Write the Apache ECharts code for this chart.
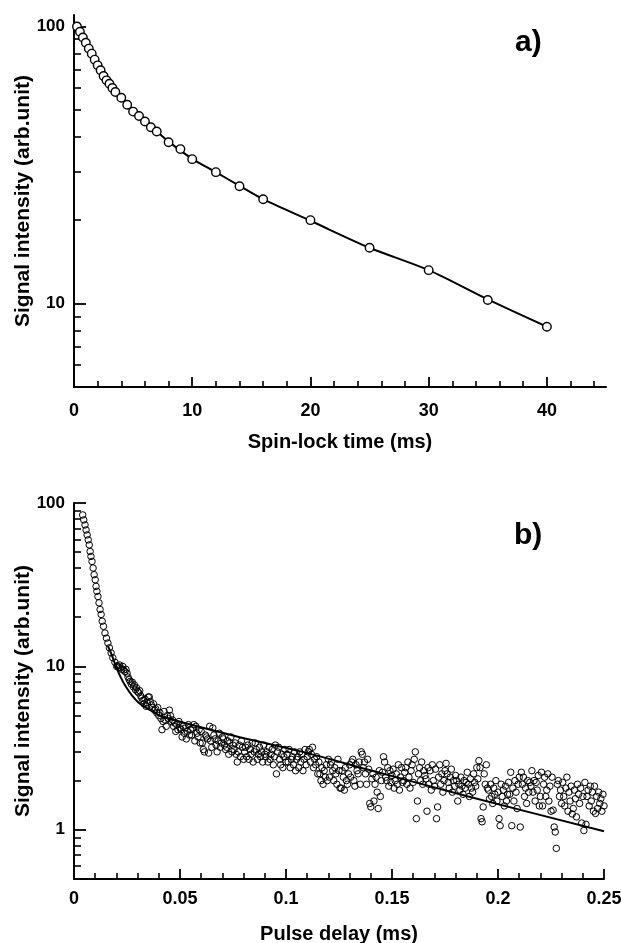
<!DOCTYPE html>
<html><head><meta charset="utf-8">
<script src="https://cdn.jsdelivr.net/npm/echarts@6/dist/echarts.min.js"></script>
<style>html,body{margin:0;padding:0;background:#fff;}#c{width:621px;height:943px;}</style>
</head><body><div id="c"></div>
<script>
// ---------- Panel a : spin-lock time (ms) vs signal ----------
const aTime = [0.25,0.5,0.75,1.0,1.25,1.5,1.75,2.0,2.25,2.5,2.75,3.0,3.25,3.5,
  4.0,4.5,5.0,5.5,6.0,6.5,7.0,8,9,10,12,14,16,20,25,30,35,40];
const aSignal = [100,95.7,91.2,87.3,83.2,79.8,75.9,72.4,69.5,66.3,63.9,62.1,60.0,58.0,
  55.3,52.2,49.3,47.5,45.4,43.3,41.8,38.2,36.1,33.2,29.8,26.5,23.8,20.0,15.9,13.2,10.3,8.25];
const aFitTime = [0.25,1,2,3,4,5,6,7,8,10,12,14,16,20,25,30,35,40];
const aFitSignal = [100,87.3,72.4,62.1,55.3,49.3,45.4,41.8,38.4,33.3,29.8,26.6,23.8,19.9,15.9,13.2,10.35,8.25];
const aXTicks = [0,10,20,30,40];
const aXMinor = [2,4,6,8,12,14,16,18,22,24,26,28,32,34,36,38,42,44];
const aYTicks = [10,100];
const aYMinor = [6,7,8,9,20,30,40,50,60,70,80,90];

// ---------- Panel b : pulse delay (in microseconds, shown in ms) vs signal ----------
const bDelayUs = [
  4.1,4.6,5.2,5.7,6.2,6.7,7.2,7.6,8.0,8.5,9.0,9.5,10.0,10.4,10.8,11.3,11.8,12.3,12.8,13.3,13.9,14.6,15.3,16.0,16.7,17.5,18.3,19.3,20.1,
  20.5,21,21.5,22,22.5,23,23.5,24,24.5,25,
  25.5,26,26.5,27,27.5,28,28.5,29,29.5,30,
  30.5,31,31.5,32,32.5,33,33.5,34,34.5,35,
  35.5,36,36.5,37,37.5,38,38.5,39,39.5,40,
  40.5,41,41.5,42,42.5,43,43.5,44,44.5,45,
  45.5,46,46.5,47,47.5,48,48.5,49,49.5,50,
  50.5,51,51.5,52,52.5,53,53.5,54,54.5,55,
  55.5,56,56.5,57,57.5,58,58.5,59,59.5,60,
  60.5,61,61.5,62,62.5,63,63.5,64,64.5,65,
  65.5,66,66.5,67,67.5,68,68.5,69,69.5,70,
  70.5,71,71.5,72,72.5,73,73.5,74,74.5,75,
  75.5,76,76.5,77,77.5,78,78.5,79,79.5,80,
  80.5,81,81.5,82,82.5,83,83.5,84,84.5,85,
  85.5,86,86.5,87,87.5,88,88.5,89,89.5,90,
  90.5,91,91.5,92,92.5,93,93.5,94,94.5,95,
  95.5,96,96.5,97,97.5,98,98.5,99,99.5,100,
  100.5,101,101.5,102,102.5,103,103.5,104,104.5,105,
  105.5,106,106.5,107,107.5,108,108.5,109,109.5,110,
  110.5,111,111.5,112,112.5,113,113.5,114,114.5,115,
  115.5,116,116.5,117,117.5,118,118.5,119,119.5,120,
  120.5,121,121.5,122,122.5,123,123.5,124,124.5,125,
  125.5,126,126.5,127,127.5,128,128.5,129,129.5,130,
  130.5,131,131.5,132,132.5,133,133.5,134,134.5,135,
  135.5,136,136.5,137,137.5,138,138.5,139,139.5,140,
  140.5,141,141.5,142,142.5,143,143.5,144,144.5,145,
  145.5,146,146.5,147,147.5,148,148.5,149,149.5,150,
  150.5,151,151.5,152,152.5,153,153.5,154,154.5,155,
  155.5,156,156.5,157,157.5,158,158.5,159,159.5,160,
  160.5,161,161.5,162,162.5,163,163.5,164,164.5,165,
  165.5,166,166.5,167,167.5,168,168.5,169,169.5,170,
  170.5,171,171.5,172,172.5,173,173.5,174,174.5,175,
  175.5,176,176.5,177,177.5,178,178.5,179,179.5,180,
  180.5,181,181.5,182,182.5,183,183.5,184,184.5,185,
  185.5,186,186.5,187,187.5,188,188.5,189,189.5,190,
  190.5,191,191.5,192,192.5,193,193.5,194,194.5,195,
  195.5,196,196.5,197,197.5,198,198.5,199,199.5,200,
  200.5,201,201.5,202,202.5,203,203.5,204,204.5,205,
  205.5,206,206.5,207,207.5,208,208.5,209,209.5,210,
  210.5,211,211.5,212,212.5,213,213.5,214,214.5,215,
  215.5,216,216.5,217,217.5,218,218.5,219,219.5,220,
  220.5,221,221.5,222,222.5,223,223.5,224,224.5,225,
  225.5,226,226.5,227,227.5,228,228.5,229,229.5,230,
  230.5,231,231.5,232,232.5,233,233.5,234,234.5,235,
  235.5,236,236.5,237,237.5,238,238.5,239,239.5,240,
  240.5,241,241.5,242,242.5,243,243.5,244,244.5,245,
  245.5,246,246.5,247,247.5,248,248.5,249,249.5,250
];
const bSignal = [
  84.5,78.8,73.4,68.4,63.8,59.5,55.4,50.5,47.1,43.9,40.0,36.4,33.9,30.9,28.8,26.8,24.5,22.3,20.8,18.9,17.6,16.0,14.9,13.9,13.0,12.1,11.3,10.6,10.0,
  10.1,9.9,10.2,9.8,9.6,10.0,9.5,9.3,9.6,9.1,
  8.6,8.3,8.1,7.8,8.0,7.5,7.7,7.2,7.4,7.0,
  6.9,7.1,6.6,6.4,6.2,5.9,6.3,5.7,6.0,6.5,
  6.5,6.1,5.8,5.6,5.9,5.4,5.5,5.2,5.6,5.0,
  5.2,4.8,4.1,4.6,5.3,4.7,4.3,5.0,4.8,5.4,
  5.0,4.6,4.7,4.3,4.5,4.0,4.4,4.1,4.6,4.2,
  4.1,3.7,4.3,3.9,4.2,3.6,4.0,4.4,3.8,4.1,
  3.8,4.2,4.4,3.5,4.3,3.9,3.7,4.1,3.4,4.0,
  3.4,3.1,3.0,3.8,3.7,3.6,2.95,4.3,3.5,3.2,
  4.2,3.8,3.6,3.3,3.0,3.5,3.9,3.2,3.4,3.7,
  3.6,3.3,3.1,3.2,3.5,2.9,3.4,3.7,3.0,3.3,
  3.1,3.4,2.9,2.6,3.0,3.3,2.8,3.5,3.2,2.7,
  3.0,3.2,2.8,3.3,2.7,3.1,2.9,3.4,2.6,3.0,
  3.4,3.1,2.7,2.9,3.2,2.8,3.0,2.6,3.3,2.9,
  2.8,3.0,2.6,3.2,2.7,2.9,3.1,2.5,2.8,3.3,
  2.2,3.0,3.2,2.7,2.5,2.9,2.4,2.8,3.1,2.6,
  2.9,2.6,3.1,2.4,2.7,2.8,2.5,3.0,2.3,2.7,
  2.8,2.4,3.0,2.6,2.9,2.3,2.7,3.1,2.5,2.8,
  3.0,3.1,2.6,2.9,3.2,2.4,2.7,2.5,2.8,2.2,
  2.6,2.2,2.0,2.4,1.9,2.3,2.1,2.5,2.0,2.7,
  2.1,2.5,2.6,2.3,2.0,2.4,2.2,1.9,2.7,2.3,
  1.8,1.8,2.3,2.1,1.75,2.4,2.0,1.9,2.2,2.5,
  2.1,2.6,2.7,2.0,1.85,2.5,2.3,2.2,2.6,1.9,
  3.0,2.9,2.4,2.6,2.2,1.9,2.7,2.35,1.45,1.38,
  2.05,2.2,1.5,1.9,2.1,1.7,1.35,2.3,1.6,2.0,
  2.25,2.8,2.6,2.1,2.0,2.4,1.85,2.3,1.95,2.15,
  2.35,1.8,2.0,2.2,1.9,2.5,1.75,2.1,2.4,1.95,
  2.0,2.25,2.4,1.9,2.6,2.1,1.8,2.3,2.5,1.95,
  2.7,3.0,1.17,1.5,2.2,2.4,2.0,2.6,1.9,2.3,
  2.15,2.05,1.3,2.4,1.9,2.3,1.75,2.5,2.0,1.85,
  2.35,1.17,1.38,2.1,2.5,1.9,2.2,1.7,2.0,2.3,
  2.55,2.2,1.95,1.8,2.1,2.35,1.7,2.0,1.85,2.15,
  2.0,1.5,1.9,1.75,2.1,1.85,1.65,2.0,1.8,1.95,
  2.25,1.9,1.6,2.05,1.8,1.7,2.2,1.95,1.85,2.4,
  2.05,2.65,2.4,1.17,1.12,1.38,2.2,1.9,2.5,1.8,
  1.75,1.55,1.9,1.6,1.45,1.8,1.65,2.0,1.5,1.7,
  1.17,1.06,1.9,1.6,1.75,1.4,1.85,1.5,1.65,1.95,
  1.65,2.25,1.06,1.8,1.5,2.0,1.7,1.35,1.9,2.1,
  1.04,2.25,1.9,2.1,1.6,1.8,1.45,2.0,1.7,1.95,
  1.85,2.3,1.7,2.0,1.5,1.95,1.75,2.15,1.4,1.6,
  2.25,1.4,1.9,2.1,1.6,1.75,2.2,1.5,1.85,1.3,
  2.1,1.32,1.04,0.97,0.77,1.9,2.0,1.6,1.75,1.45,
  1.95,1.6,1.4,1.8,2.1,1.3,1.7,1.5,1.85,1.25,
  1.35,1.75,1.55,1.2,1.9,1.65,1.45,1.8,1.1,1.6,
  0.99,1.95,1.08,1.6,1.75,1.4,1.85,1.5,1.7,1.3,
  1.85,1.26,1.6,1.35,1.7,1.45,1.55,1.3,1.65,1.4
];
const bFitDelay = [0.016,0.018,0.0194,0.022,0.0245,0.0275,0.0305,0.0327,0.037,0.0422,0.075,0.107,0.138,0.186,0.25];
const bFitSignal = [13.3,11.6,10.3,8.6,7.5,6.6,6.0,5.73,5.3,4.9,3.78,3.02,2.35,1.6,0.98];
const bXTicks = [0,0.05,0.1,0.15,0.2,0.25];
const bXMinor = [0.01,0.02,0.03,0.04,0.06,0.07,0.08,0.09,0.11,0.12,0.13,0.14,0.16,0.17,0.18,0.19,0.21,0.22,0.23,0.24];
const bYTicks = [1,10,100];
const bYMinor = [0.6,0.7,0.8,0.9,2,3,4,5,6,7,8,9,20,30,40,50,60,70,80,90];

// ---------- chart ----------
const FONT = "'Liberation Sans', Arial, Helvetica, sans-serif";
const BLACK = '#000';
const axisLineStyle = {color: BLACK, width: 2};

function xAxes(gridIndex, min, max, ticks, minor, name, nameGap, margin) {
  return [
    {type: 'value', gridIndex, min, max, position: 'bottom',
     name, nameLocation: 'middle', nameGap,
     nameTextStyle: {fontFamily: FONT, fontWeight: 'bold', fontSize: 20, color: BLACK},
     axisLine: {show: true, onZero: false, lineStyle: axisLineStyle},
     axisTick: {show: true, inside: true, length: 10, customValues: ticks, lineStyle: {color: BLACK, width: 1.8}},
     axisLabel: {show: true, customValues: ticks, margin, color: BLACK, fontFamily: FONT, fontWeight: 'bold', fontSize: 18,
                 formatter: v => String(v)},
     splitLine: {show: false}, minorTick: {show: false}},
    {type: 'value', gridIndex, min, max, position: 'bottom',
     axisLine: {show: false, onZero: false},
     axisTick: {show: true, inside: true, length: 6, customValues: minor, lineStyle: {color: BLACK, width: 1.6}},
     axisLabel: {show: false}, splitLine: {show: false}}
  ];
}
function yAxes(gridIndex, min, max, ticks, minor, name) {
  const lmin = Math.log10(min), lmax = Math.log10(max);
  return [
    {type: 'log', logBase: 10, gridIndex, min, max, position: 'left',
     name, nameLocation: 'middle', nameGap: 40, nameRotate: 90,
     nameTextStyle: {fontFamily: FONT, fontWeight: 'bold', fontSize: 21, color: BLACK},
     axisLine: {show: true, onZero: false, lineStyle: axisLineStyle},
     axisTick: {show: false}, axisLabel: {show: false}, splitLine: {show: false},
     minorTick: {show: false}, minorSplitLine: {show: false}},
    {type: 'value', gridIndex, min: lmin, max: lmax, position: 'left',
     axisLine: {show: false, onZero: false},
     axisTick: {show: true, inside: true, length: 12, customValues: ticks.map(Math.log10), lineStyle: {color: BLACK, width: 1.8}},
     axisLabel: {show: true, customValues: ticks.map(Math.log10), margin: 9, color: BLACK,
                 fontFamily: FONT, fontWeight: 'bold', fontSize: 17,
                 formatter: v => String(Math.round(Math.pow(10, v)))},
     splitLine: {show: false}},
    {type: 'value', gridIndex, min: lmin, max: lmax, position: 'left',
     axisLine: {show: false, onZero: false},
     axisTick: {show: true, inside: true, length: 7, customValues: minor.map(Math.log10), lineStyle: {color: BLACK, width: 1.6}},
     axisLabel: {show: false}, splitLine: {show: false}}
  ];
}

const aPoints = aTime.map((t, i) => [t, aSignal[i]]);
const aFit = aFitTime.map((t, i) => [t, aFitSignal[i]]);
const bPoints = bDelayUs.map((t, i) => [t / 1000, bSignal[i]]);
const bFit = bFitDelay.map((t, i) => [t, bFitSignal[i]]);

const chart = echarts.init(document.getElementById('c'), null, {renderer: 'canvas'});
chart.setOption({
  animation: false,
  backgroundColor: '#fff',
  textStyle: {fontFamily: FONT},
  title: [
    {text: 'a)', left: 515, top: 28, padding: 0,
     textStyle: {fontFamily: FONT, fontWeight: 'bold', fontSize: 30, color: BLACK}},
    {text: 'b)', left: 514, top: 521, padding: 0,
     textStyle: {fontFamily: FONT, fontWeight: 'bold', fontSize: 30, color: BLACK}}
  ],
  grid: [
    {left: 74, top: 15, width: 532, height: 372, containLabel: false, outerBoundsMode: 'none'},
    {left: 74, top: 503, width: 530, height: 376, containLabel: false, outerBoundsMode: 'none'}
  ],
  xAxis: [
    ...xAxes(0, 0, 45, aXTicks, aXMinor, 'Spin-lock time (ms)', 45, 15),
    ...xAxes(1, 0, 0.25, bXTicks, bXMinor, 'Pulse delay (ms)', 45, 11)
  ],
  yAxis: [
    ...yAxes(0, 5, 110, aYTicks, aYMinor, 'Signal intensity (arb.unit)'),
    ...yAxes(1, 0.5, 100, bYTicks, bYMinor, 'Signal intensity (arb.unit)')
  ],
  series: [
    {type: 'line', xAxisIndex: 0, yAxisIndex: 0, data: aFit, symbol: 'none', smooth: 0.3,
     lineStyle: {color: BLACK, width: 2}, z: 2, silent: true},
    {type: 'scatter', xAxisIndex: 0, yAxisIndex: 0, data: aPoints, symbol: 'circle', symbolSize: 8.5,
     itemStyle: {color: '#fff', borderColor: BLACK, borderWidth: 1.4, opacity: 1}, z: 3},
    {type: 'scatter', xAxisIndex: 2, yAxisIndex: 3, data: bPoints, symbol: 'circle', symbolSize: 6.5,
     itemStyle: {color: 'rgba(255,255,255,0)', borderColor: BLACK, borderWidth: 1, opacity: 1}, z: 3},
    {type: 'line', xAxisIndex: 2, yAxisIndex: 3, data: bFit, symbol: 'none', smooth: 0.3,
     lineStyle: {color: BLACK, width: 2}, z: 4, silent: true}
  ]
});
</script>
</body></html>
